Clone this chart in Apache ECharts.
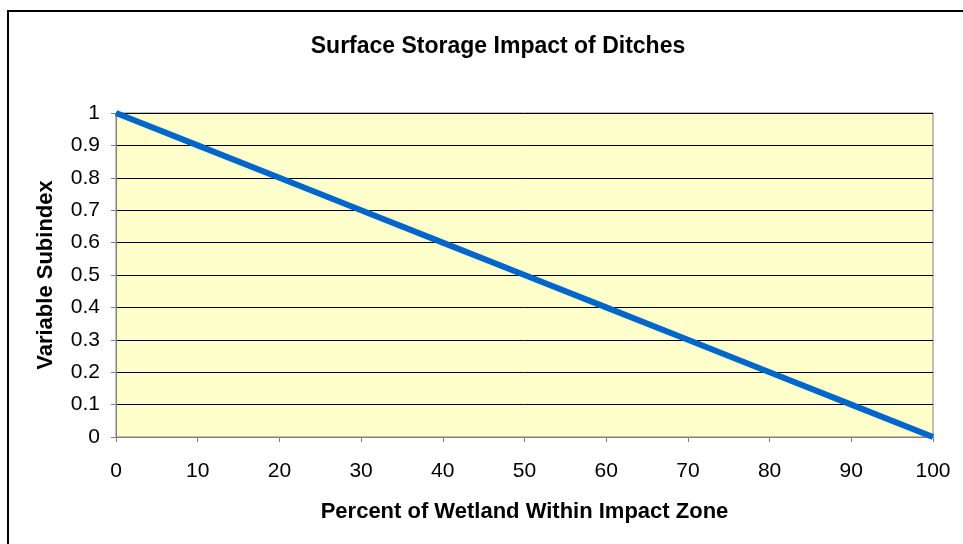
<!DOCTYPE html>
<html>
<head>
<meta charset="utf-8">
<script src="https://cdn.jsdelivr.net/npm/echarts@6/dist/echarts.min.js"></script>
<style>
  html, body { margin: 0; padding: 0; background: #fff; }
  #main { width: 963px; height: 544px; }
</style>
</head>
<body>
<div id="main"></div>
<script>
var percentWetland = [0, 10, 20, 30, 40, 50, 60, 70, 80, 90, 100];
var subindex = [1, 0.9, 0.8, 0.7, 0.6, 0.5, 0.4, 0.3, 0.2, 0.1, 0];

var chart = echarts.init(document.getElementById('main'));

var font = '"Liberation Sans", Arial, sans-serif';

var option = {
  animation: false,
  backgroundColor: '#fff',
  title: {
    text: 'Surface Storage Impact of Ditches',
    left: 493,
    top: 30,
    textAlign: 'center',
    textStyle: { fontFamily: font, fontSize: 23, fontWeight: 'bold', color: '#000' }
  },
  // outer frame (only left and top edges visible)
  graphic: [{
    type: 'rect',
    shape: { x: 8, y: 11, width: 1200, height: 1000 },
    style: { fill: 'none', stroke: '#000', lineWidth: 2 },
    silent: true
  }],
  grid: {
    left: 116, right: 30, top: 113, bottom: 107,
    show: true,
    backgroundColor: '#FFFFCC',
    borderColor: '#808080',
    borderWidth: 1
  },
  xAxis: [{
    type: 'value',
    min: 0, max: 100, interval: 10,
    name: 'Percent of Wetland Within Impact Zone',
    nameLocation: 'middle',
    nameGap: 64,
    nameTextStyle: { fontFamily: font, fontSize: 22, fontWeight: 'bold', color: '#000' },
    axisLine: { show: true, lineStyle: { color: '#808080', width: 1 } },
    axisTick: { show: true, inside: false, length: 5, lineStyle: { color: '#808080' } },
    axisLabel: { fontFamily: font, fontSize: 21, color: '#000', margin: 24 },
    splitLine: { show: false }
  }, {
    type: 'value', position: 'top',
    min: 0, max: 100,
    axisLine: { show: true, lineStyle: { color: '#808080', width: 1 } },
    axisTick: { show: false }, axisLabel: { show: false }, splitLine: { show: false }
  }],
  yAxis: [{
    type: 'value',
    min: 0, max: 1, interval: 0.1,
    name: 'Variable Subindex',
    nameLocation: 'middle',
    nameGap: 59,
    nameTextStyle: { fontFamily: font, fontSize: 22, fontWeight: 'bold', color: '#000' },
    axisLine: { show: true, lineStyle: { color: '#808080', width: 1 } },
    axisTick: { show: true, inside: false, length: 5, lineStyle: { color: '#808080' } },
    axisLabel: {
      fontFamily: font, fontSize: 21, color: '#000', margin: 16,
      formatter: function (v) { return String(Math.round(v * 10) / 10); }
    },
    splitLine: { show: true, lineStyle: { color: '#000', width: 1 } }
  }, {
    type: 'value', position: 'right',
    min: 0, max: 1,
    axisLine: { show: true, lineStyle: { color: '#808080', width: 1 } },
    axisTick: { show: false }, axisLabel: { show: false }, splitLine: { show: false }
  }],
  series: [{
    type: 'line',
    data: percentWetland.map(function (x, i) { return [x, subindex[i]]; }),
    showSymbol: false,
    symbol: 'none',
    lineStyle: { color: '#0066CC', width: 6 },
    z: 5
  }]
};

chart.setOption(option);
</script>
</body>
</html>
